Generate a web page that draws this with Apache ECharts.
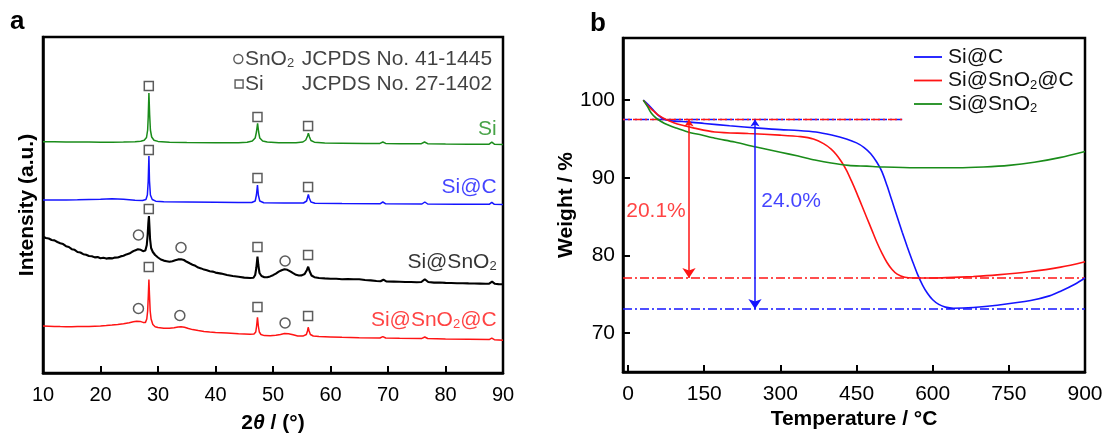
<!DOCTYPE html>
<html><head><meta charset="utf-8">
<script src="https://cdn.jsdelivr.net/npm/echarts@6/dist/echarts.min.js"></script>
<style>html,body{margin:0;padding:0;background:#fff}#c{width:1104px;height:433px}</style>
</head><body><div id="c"></div>
<script>
// ================= Panel a : XRD patterns (2theta, stacked intensity a.u.) =================
const xrdSi = [[10,231.3],[12,231.2],[14,231],[16,231],[18,230.9],[20,230.8],[22,230.8],[24,231],[26,231.3],[27,231.8],[27.6,232.8],[28.0,235.5],[28.2,243],[28.3,256],[28.42,280],[28.55,258],[28.68,243],[28.9,236],[29.3,232.8],[30,231.6],[32,230.8],[35,230.4],[40,230.2],[44,230.3],[45.5,230.8],[46.4,232],[46.9,235],[47.12,241],[47.32,249.7],[47.5,241],[47.7,235],[48.2,232],[49,231],[51,230.3],[54,230.3],[55.2,231],[55.7,233],[56.0,237],[56.15,239.7],[56.35,236],[56.6,232.5],[57.2,230.8],[59,230],[62,229.8],[66,229.5],[68.6,229.6],[69.1,231],[69.6,229.6],[72,229.3],[75.8,229.3],[76.35,231],[76.9,229.3],[80,229],[84,228.8],[87.6,228.8],[88.05,230.8],[88.5,228.8],[90,228.5]];
const xrdSiC = [[10,173],[12,173],[14,173],[16,173.2],[18,173.5],[20,173.8],[22,174.2],[24,173.8],[26,172.8],[27.3,172.6],[27.9,173.5],[28.15,178],[28.3,192],[28.42,217],[28.52,192],[28.68,178],[29,173.5],[29.6,171.8],[31,171.3],[35,171],[40,170.7],[44,170.4],[46.3,170.5],[46.9,172],[47.12,178],[47.3,188],[47.45,178],[47.7,172],[48.4,170.3],[52,170],[55.3,170],[55.85,172],[56.03,176],[56.15,178.5],[56.3,175],[56.6,171],[57.3,169.8],[62,169.5],[68.6,169.2],[69.1,171],[69.6,169.2],[75.9,169],[76.4,171],[76.9,169],[82,168.8],[87.6,168.7],[88.05,170.7],[88.5,168.7],[90,168.6]];
const xrdSiSnO2 = [[10,136.3],[10.5,135],[11,134.5],[11.5,133],[12,132.6],[12.5,131],[13,129.8],[13.5,128.9],[14,126.8],[14.5,126],[15,123.8],[15.5,123.2],[16,121],[16.5,120.5],[17,118.8],[17.5,118.3],[18,117],[18.5,116.8],[19,115.6],[19.5,115.9],[20,114.8],[20.5,115.2],[21,114.4],[21.5,114.9],[22,114.6],[22.5,115.4],[23,115.5],[23.5,116.6],[24,117.2],[24.5,118.6],[25,119.4],[25.5,121.2],[26,122.6],[26.5,123.7],[27,123.2],[27.4,121.8],[27.8,122.4],[28.05,128],[28.2,138],[28.32,150],[28.42,157],[28.5,148],[28.62,134],[28.8,125],[29.1,121],[29.5,118],[30,115.5],[30.5,113.5],[31,112.4],[31.5,111.8],[32,111.2],[32.5,111.8],[33,112.8],[33.5,113.6],[34,113.8],[34.5,113],[35,111.2],[35.5,109.7],[36,108.3],[36.5,107.2],[37,105.4],[37.5,104.6],[38,103.4],[38.5,102.7],[39,101.8],[39.5,101.4],[40,100.4],[41,99.4],[42,98],[43,97],[44,96.2],[45,95.4],[46,95],[46.6,95.2],[46.9,98],[47.1,105],[47.3,116.3],[47.45,108],[47.65,100],[48,97],[48.5,95.8],[49,95.8],[49.5,96.6],[50,97.8],[50.5,99.4],[51,101.4],[51.5,102.8],[52,103.7],[52.5,103.2],[53,101.6],[53.5,99.8],[54,98.2],[54.5,97.5],[55,97.6],[55.5,99],[55.9,103],[56.12,106.3],[56.35,102],[56.7,97.5],[57.2,95.8],[58,95],[59,94.6],[60,94.3],[61,94.2],[62,93.8],[63,94],[64,93.7],[65,93.7],[66,93],[67,92.6],[68,92],[68.7,91.8],[69.2,93.3],[69.7,91.6],[71,91.4],[72,91.2],[73,91],[74,91],[75,90.8],[75.8,91],[76.4,93.8],[77,91],[78,90.4],[79,90.5],[80,90.1],[81,90],[82,89.8],[83,89.8],[84,89.6],[85,89.5],[86,89.4],[87,89.3],[87.6,89.4],[88.1,91.4],[88.6,89.2],[89.2,88.9],[90,88.7]];
const xrdSiSnO2C = [[10,47],[11,46.8],[12,46.6],[13,46.4],[14,46.3],[15,46.3],[16,46.4],[17,46.5],[18,46.6],[19,46.8],[20,47],[21,47.4],[22,47.9],[23,48.5],[24,49.3],[25,50.3],[25.7,51.2],[26.3,51.8],[26.9,51.6],[27.4,50.6],[27.8,50.4],[28.05,54],[28.2,62],[28.32,78],[28.42,93.5],[28.52,78],[28.64,62],[28.8,54],[29.1,48.5],[29.5,46.3],[30,45.5],[31,44.8],[32,44.7],[32.8,45.3],[33.5,46.1],[34,46.3],[34.6,45.8],[35.3,44.5],[36,43.4],[37,42.4],[38,41.6],[39,41],[40,40.6],[42,40],[44,39.3],[46,38.8],[46.7,38.9],[47.0,41],[47.15,47],[47.3,55.7],[47.45,47],[47.62,41],[47.9,38.5],[48.5,37.4],[49.5,37.2],[50.5,37.8],[51.3,38.6],[52,39.6],[52.7,39.3],[53.5,38.2],[54.3,37.1],[55.2,36.9],[55.8,38.5],[56.0,42],[56.12,45.7],[56.28,42],[56.5,38.5],[57,37],[58,36.5],[60,36.1],[62,35.7],[65,35.3],[68.6,35],[69.1,36.4],[69.6,35],[72,34.8],[75.9,34.6],[76.4,36],[76.9,34.5],[80,34.1],[84,33.8],[87.6,33.4],[88.05,34.8],[88.5,33.3],[90,32.7]];
// reflection markers (Si = square, SnO2 = circle)
const siMarks = [[28.4,287],[47.3,256],[56.1,247],[28.4,223],[47.3,195],[56.1,186],[28.4,164],[47.3,126],[56.1,118],[28.4,106],[47.3,66],[56.1,57]];
const sno2Marks = [[26.6,138],[34.0,125.5],[52.1,112],[26.6,64.5],[33.8,57.5],[52.1,50]];
const xrdTicks = [10,20,30,40,50,60,70,80,90];
const xrdLabelNames = ['Si','Si@C','Si@SnO2','Si@SnO2@C'];
const xrdLabelY = [244,186,111,53];
const xrdLabelX = 88.9;
const refNames = ['SnO2','Si'];
const refCards = ['JCPDS No. 41-1445','JCPDS No. 27-1402'];
const refRowY = [314,289];

// ================= Panel b : TGA (temperature degC, weight %) =================
const tgaSiC = [[30,100],[40,99.4],[50,98.7],[60,98.0],[72,97.5],[90,97.3],[118,97.2],[150,97.0],[200,96.7],[257,96.4],[300,96.2],[335,96.1],[370,95.9],[401,95.5],[430,95.0],[450,94.5],[465,93.9],[478,93.1],[490,92.0],[500,90.8],[510,89.0],[520,87.0],[530,85.0],[540,83.0],[550,81.1],[560,79.3],[570,77.6],[580,76.2],[590,75.1],[600,74.3],[612,73.7],[625,73.35],[641,73.2],[680,73.3],[727,73.6],[793,74.2],[830,74.8],[852,75.4],[880,76.3],[900,77.1]];
const tgaSiSnO2C = [[30,100],[40,99.2],[50,98.6],[59,98.1],[75,97.5],[90,97.1],[105,96.8],[130,96.4],[171,95.9],[237,95.7],[299,95.5],[340,95.3],[365,95.0],[385,94.4],[400,93.7],[410,93.0],[420,92.1],[430,91.0],[440,89.6],[450,88.1],[460,86.5],[470,84.9],[480,83.3],[490,81.7],[500,80.3],[510,79.1],[520,78.2],[530,77.6],[545,77.2],[562,77.1],[600,77.1],[628,77.15],[680,77.3],[727,77.5],[790,77.9],[852,78.5],[900,79.2]];
const tgaSiSnO2 = [[30,100],[38,99.2],[46,98.3],[55,97.7],[72,97.0],[95,96.4],[118,95.9],[145,95.5],[171,95.1],[210,94.6],[250,94.0],[300,93.3],[335,92.8],[368,92.3],[400,91.9],[434,91.6],[470,91.5],[500,91.4],[566,91.3],[600,91.3],[650,91.3],[700,91.4],[750,91.6],[800,92.0],[850,92.6],[900,93.4]];
const tgaTicksX = [0,150,300,450,600,750,900];
const tgaTicksY = [70,80,90,100];
const levelStart = 97.5, levelSiSnO2C = 77.1, levelSiC = 73.1;
const startLineEnd = 540;
const arrowT = [120, 250];
const lossText = ['20.1%','24.0%'];
const lossPos = [[55,85.7],[321,87.0]];

// ================= styling =================
const FONT = "'Liberation Sans', Arial, Helvetica, sans-serif";
const GREEN = '#1a8c1a', BLUE = '#1414ff', RED = '#ff1414', BLACK = '#000';
const labelColors = [GREEN, BLUE, BLACK, RED];
const sub = (s) => s.replace(/O2/g, 'O{sub|2}');
const subRich = (c) => ({sub: {fontSize: 13, lineHeight: 5, verticalAlign: 'bottom', color: c, fontFamily: FONT}});
const dashDot = [9, 3, 2, 3];

function xrdLine(name, data, color, w) {
  return {name, type: 'line', xAxisIndex: 0, yAxisIndex: 0, data, symbol: 'none', smooth: false,
    lineStyle: {color, width: w}, itemStyle: {color}, silent: true, z: 3};
}
function tgaLine(name, data, color) {
  return {name, type: 'line', xAxisIndex: 1, yAxisIndex: 1, data, symbol: 'none', showSymbol: false,
    smooth: 0.3,
    lineStyle: {color, width: 1.6}, itemStyle: {color}, silent: true, z: 4};
}
function hLine(y0, x0, x1, color, offset) {
  return {type: 'line', xAxisIndex: 1, yAxisIndex: 1, data: [[x0, y0], [x1, y0]], symbol: 'none', silent: true,
    lineStyle: {color, width: 1.5, type: dashDot, dashOffset: offset || 0}, z: 2};
}

const series = [
  xrdLine('Si', xrdSi, GREEN, 1.5),
  xrdLine('Si@C', xrdSiC, BLUE, 1.5),
  xrdLine('Si@SnO2 xrd', xrdSiSnO2, BLACK, 2.1),
  xrdLine('Si@SnO2@C xrd', xrdSiSnO2C, RED, 1.5),
  {type: 'scatter', xAxisIndex: 0, yAxisIndex: 0, data: siMarks, symbol: 'rect', symbolSize: 9,
    itemStyle: {color: 'rgba(255,255,255,0)', borderColor: '#333', borderWidth: 1.5}, silent: true, z: 5},
  {type: 'scatter', xAxisIndex: 0, yAxisIndex: 0, data: sno2Marks, symbol: 'circle', symbolSize: 10,
    itemStyle: {color: 'rgba(255,255,255,0)', borderColor: '#333', borderWidth: 1.5}, silent: true, z: 5},
  // legend markers of panel a
  {type: 'scatter', xAxisIndex: 0, yAxisIndex: 0,
    data: [{value: [43.97, refRowY[0]], symbol: 'circle', symbolSize: 9}, {value: [44.1, refRowY[1]], symbol: 'rect', symbolSize: 8}],
    itemStyle: {color: 'rgba(255,255,255,0)', borderColor: '#333', borderWidth: 1.4}, silent: true, z: 5},
  // legend texts of panel a
  {type: 'scatter', xAxisIndex: 0, yAxisIndex: 0, symbolSize: 0.1, itemStyle: {color: 'rgba(0,0,0,0)'}, silent: true, z: 6,
    data: refNames.map((n, i) => ({value: [45.1, refRowY[i]], name: n})),
    label: {show: true, position: 'right', distance: 0, formatter: p => sub(p.name), color: '#111', fontSize: 21, lineHeight: 22,
      fontFamily: FONT, rich: subRich('#111')}},
  {type: 'scatter', xAxisIndex: 0, yAxisIndex: 0, symbolSize: 0.1, itemStyle: {color: 'rgba(0,0,0,0)'}, silent: true, z: 6,
    data: refCards.map((n, i) => ({value: [55.0, refRowY[i]], name: n})),
    label: {show: true, position: 'right', distance: 0, formatter: p => p.name, color: '#111', fontSize: 21, lineHeight: 22, fontFamily: FONT}},
  // sample labels of panel a
  {type: 'scatter', xAxisIndex: 0, yAxisIndex: 0, symbolSize: 0.1, itemStyle: {color: 'rgba(0,0,0,0)'}, silent: true, z: 6,
    data: xrdLabelNames.map((n, i) => ({value: [xrdLabelX, xrdLabelY[i]], name: n,
      label: {color: labelColors[i], rich: subRich(labelColors[i])}})),
    label: {show: true, position: 'left', distance: 0, formatter: p => sub(p.name), fontSize: 21, lineHeight: 22, fontFamily: FONT}},

  // ---------- panel b ----------
  hLine(levelStart, -10, startLineEnd, BLUE, 0),
  hLine(levelStart, -10, startLineEnd, RED, 7),
  hLine(levelSiSnO2C, -10, 900, RED, 0),
  hLine(levelSiC, -10, 900, BLUE, 0),
  tgaLine('Si@C', tgaSiC, BLUE),
  tgaLine('Si@SnO2@C', tgaSiSnO2C, RED),
  tgaLine('Si@SnO2', tgaSiSnO2, GREEN),
  {type: 'lines', coordinateSystem: 'cartesian2d', xAxisIndex: 1, yAxisIndex: 1, silent: true, z: 5,
    symbol: ['arrow', 'arrow'], symbolSize: [7, 10],
    lineStyle: {opacity: 1, width: 1.5},
    data: [
      {coords: [[arrowT[0], levelStart], [arrowT[0], levelSiSnO2C]], lineStyle: {color: RED, width: 1.5, opacity: 1}},
      {coords: [[arrowT[1], levelStart], [arrowT[1], levelSiC]], lineStyle: {color: BLUE, width: 1.5, opacity: 1}}
    ]},
  {type: 'scatter', xAxisIndex: 1, yAxisIndex: 1, symbolSize: 0.1, itemStyle: {color: 'rgba(0,0,0,0)'}, silent: true, z: 6,
    data: lossText.map((t, i) => ({value: lossPos[i], name: t, label: {color: i === 0 ? RED : BLUE}})),
    label: {show: true, position: 'inside', formatter: p => p.name, fontSize: 21, fontFamily: FONT}}
];

const axisLine = {show: true, onZero: false, lineStyle: {color: '#000', width: 2.5}};
const nameStyle = {fontSize: 21, fontWeight: 'bold', color: '#000', fontFamily: FONT};

const option = {
  animation: false,
  backgroundColor: '#fff',
  textStyle: {fontFamily: FONT},
  grid: [
    {left: 43, right: 601, top: 37, bottom: 60, show: true, borderColor: '#000', borderWidth: 2.5, backgroundColor: 'transparent', containLabel: false, outerBoundsMode: 'none'},
    {left: 623, right: 19, top: 38, bottom: 61, show: true, borderColor: '#000', borderWidth: 2.5, backgroundColor: 'transparent', containLabel: false, outerBoundsMode: 'none'}
  ],
  xAxis: [
    {gridIndex: 0, type: 'value', min: 10, max: 90, interval: 10, axisLine,
      axisTick: {show: true, inside: true, length: 7, lineStyle: {color: '#000', width: 2}, customValues: xrdTicks},
      axisLabel: {fontSize: 20, color: '#000', margin: 12, fontFamily: FONT, customValues: xrdTicks},
      splitLine: {show: false},
      name: '2{it|θ} / (°)', nameLocation: 'middle', nameGap: 40, nameMoveOverlap: false,
      nameTextStyle: Object.assign({}, nameStyle, {rich: {it: {fontStyle: 'italic', fontWeight: 'bold', fontSize: 21, color: '#000', fontFamily: FONT}}})},
    {gridIndex: 1, type: 'value', min: -10, max: 900, axisLine,
      axisTick: {show: true, inside: true, length: 7, lineStyle: {color: '#000', width: 2}, customValues: tgaTicksX},
      axisLabel: {fontSize: 21, color: '#000', margin: 12, fontFamily: FONT, customValues: tgaTicksX},
      splitLine: {show: false},
      name: 'Temperature / °C', nameLocation: 'middle', nameGap: 37, nameMoveOverlap: false, nameTextStyle: nameStyle}
  ],
  yAxis: [
    {gridIndex: 0, type: 'value', min: 0, max: 336, axisLine,
      axisTick: {show: false}, axisLabel: {show: false}, splitLine: {show: false},
      name: 'Intensity (a.u.)', nameLocation: 'middle', nameGap: 5, nameMoveOverlap: false, nameTextStyle: nameStyle},
    {gridIndex: 1, type: 'value', min: 65, max: 108, axisLine,
      axisTick: {show: true, inside: true, length: 7, lineStyle: {color: '#000', width: 2}, customValues: tgaTicksY},
      axisLabel: {fontSize: 21, color: '#000', margin: 8, fontFamily: FONT, customValues: tgaTicksY},
      splitLine: {show: false},
      name: 'Weight / %', nameLocation: 'middle', nameGap: 46, nameMoveOverlap: false, nameTextStyle: nameStyle}
  ],
  legend: {
    data: ['Si@C', 'Si@SnO2@C', 'Si@SnO2'], orient: 'vertical', left: 914, top: 46,
    icon: 'rect', itemWidth: 28, itemHeight: 1.8, itemGap: 1.5, padding: 0, selectedMode: false,
    formatter: n => sub(n),
    textStyle: {fontSize: 21, lineHeight: 22, color: '#111', fontFamily: FONT, padding: [0, 0, 0, 1], rich: subRich('#111')}
  },
  graphic: [
    {type: 'text', left: 10, top: 9, style: {text: 'a', font: "bold 26px " + FONT, fill: '#000'}},
    {type: 'text', left: 590, top: 11, style: {text: 'b', font: "bold 26px " + FONT, fill: '#000'}}
  ],
  series
};

const chart = echarts.init(document.getElementById('c'), null, {renderer: 'canvas'});
chart.setOption(option);
</script>
</body></html>
